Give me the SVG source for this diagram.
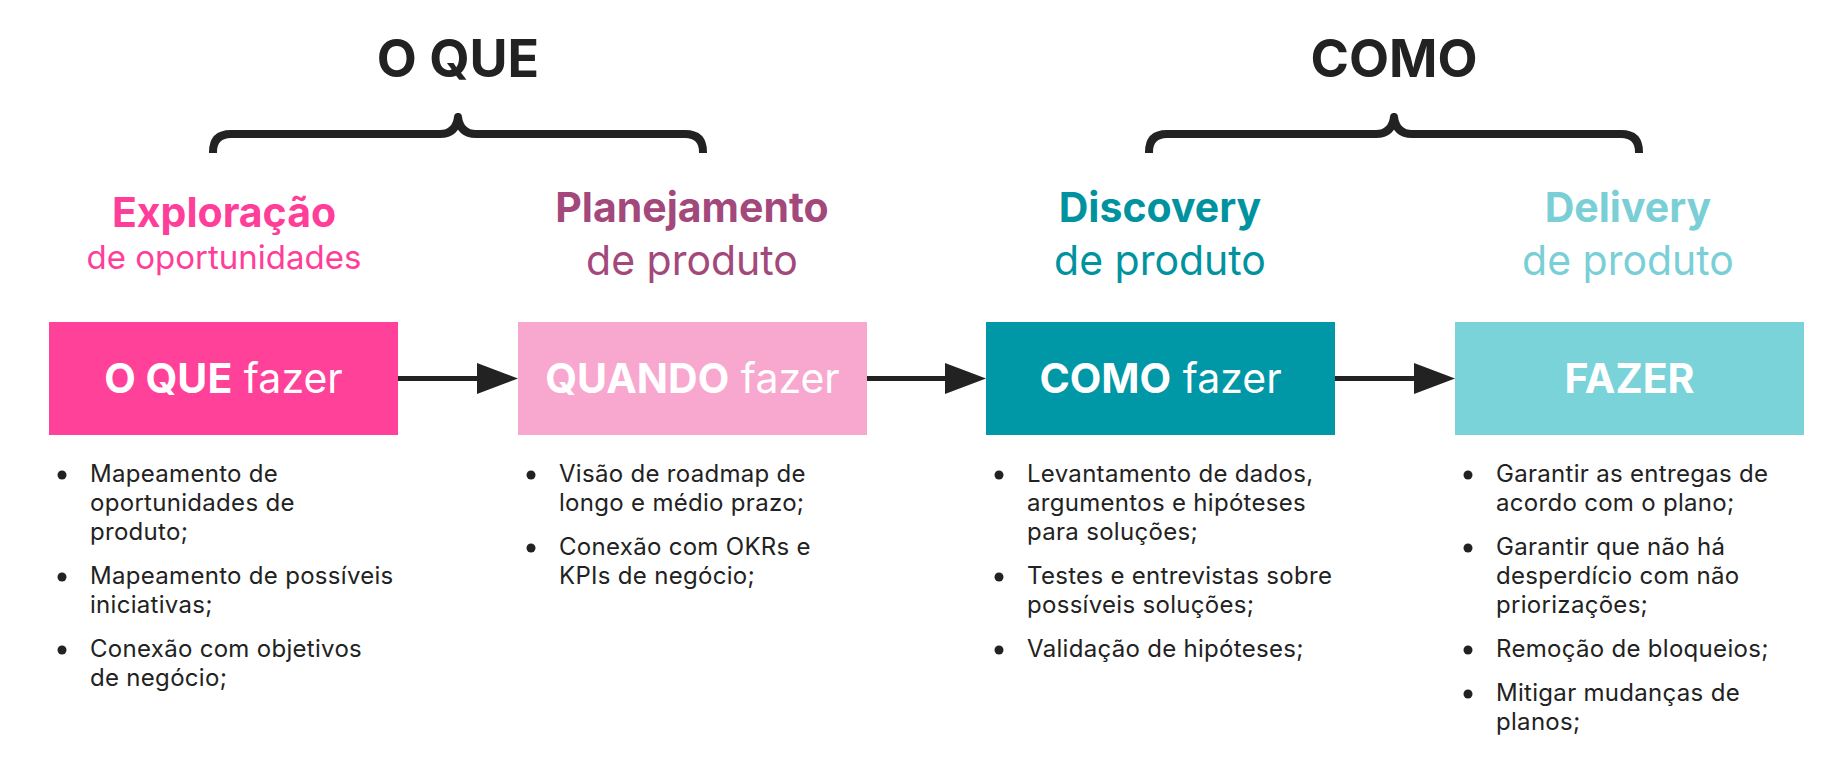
<svg xmlns="http://www.w3.org/2000/svg" width="1848" height="768" viewBox="0 0 1848 768">
<style>
text{font-family:Inter,"Noto Sans","Liberation Sans",sans-serif;}
.title{font-size:52px;font-weight:700;fill:#222222;text-anchor:middle;}
.brace{fill:none;stroke:#222222;stroke-width:8;stroke-linejoin:round;stroke-linecap:butt;}
.h1{font-size:41px;font-weight:700;text-anchor:middle;}
.h2{font-size:41px;font-weight:400;text-anchor:middle;}
.box{stroke:none;}
.bt{font-size:41px;fill:#ffffff;text-anchor:middle;}
.b{font-weight:700;}
.r{font-weight:400;}
.li{font-size:24px;letter-spacing:0.3px;fill:#222222;}
.dot{fill:#222222;}
.conn{stroke:#222222;stroke-width:5;fill:none;}
.head{fill:#222222;}
</style>
<rect width="1848" height="768" fill="#ffffff"/>

<g id="group-oque">
<text class="title" x="458" y="77">O QUE</text>
<path class="brace" d="M213,153 V152 Q213,134 231,134 H440 Q456,134 458,117 Q460,134 476,134 H685 Q703,134 703,152 V153"/>
</g>
<g id="group-como">
<text class="title" x="1394" y="77">COMO</text>
<path class="brace" d="M1149,153 V152 Q1149,134 1167,134 H1376 Q1392,134 1394,117 Q1396,134 1412,134 H1621 Q1639,134 1639,152 V153"/>
</g>

<g id="connectors">
<line class="conn" x1="398" y1="378.5" x2="480" y2="378.5"/>
<polygon class="head" points="477,363 518,378.5 477,394"/>
<line class="conn" x1="867" y1="378.5" x2="948" y2="378.5"/>
<polygon class="head" points="945,363 986,378.5 945,394"/>
<line class="conn" x1="1335" y1="378.5" x2="1417" y2="378.5"/>
<polygon class="head" points="1414,363 1455,378.5 1414,394"/>
</g>

<g id="node-exploracao">
<text class="h1" x="224" y="227" fill="#FF3E9A">Exploração</text>
<text class="h2" x="224" y="269" fill="#FF3E9A" style="font-size:33px">de oportunidades</text>
<rect class="box" x="49" y="322" width="349" height="113" fill="#FF4199"/>
<text class="bt" x="223.5" y="393"><tspan class="b">O QUE</tspan><tspan class="r"> fazer</tspan></text>
<circle class="dot" cx="62" cy="475" r="4.5"/>
<text class="li" x="90" y="482">Mapeamento de</text>
<text class="li" x="90" y="511">oportunidades de</text>
<text class="li" x="90" y="540">produto;</text>
<circle class="dot" cx="62" cy="577" r="4.5"/>
<text class="li" x="90" y="584">Mapeamento de possíveis</text>
<text class="li" x="90" y="613">iniciativas;</text>
<circle class="dot" cx="62" cy="650" r="4.5"/>
<text class="li" x="90" y="657">Conexão com objetivos</text>
<text class="li" x="90" y="686">de negócio;</text>
</g>

<g id="node-planejamento">
<text class="h1" x="692" y="222" fill="#A3487B">Planejamento</text>
<text class="h2" x="692" y="275" fill="#A3487B">de produto</text>
<rect class="box" x="518" y="322" width="349" height="113" fill="#F8A8CF"/>
<text class="bt" x="692.5" y="393"><tspan class="b">QUANDO</tspan><tspan class="r"> fazer</tspan></text>
<circle class="dot" cx="531" cy="475" r="4.5"/>
<text class="li" x="559" y="482">Visão de roadmap de</text>
<text class="li" x="559" y="511">longo e médio prazo;</text>
<circle class="dot" cx="531" cy="548" r="4.5"/>
<text class="li" x="559" y="555">Conexão com OKRs e</text>
<text class="li" x="559" y="584">KPIs de negócio;</text>
</g>

<g id="node-discovery">
<text class="h1" x="1160" y="222" fill="#00939F">Discovery</text>
<text class="h2" x="1160" y="275" fill="#00939F">de produto</text>
<rect class="box" x="986" y="322" width="349" height="113" fill="#0097A6"/>
<text class="bt" x="1160.5" y="393"><tspan class="b">COMO</tspan><tspan class="r"> fazer</tspan></text>
<circle class="dot" cx="999" cy="475" r="4.5"/>
<text class="li" x="1027" y="482">Levantamento de dados,</text>
<text class="li" x="1027" y="511">argumentos e hipóteses</text>
<text class="li" x="1027" y="540">para soluções;</text>
<circle class="dot" cx="999" cy="577" r="4.5"/>
<text class="li" x="1027" y="584">Testes e entrevistas sobre</text>
<text class="li" x="1027" y="613">possíveis soluções;</text>
<circle class="dot" cx="999" cy="650" r="4.5"/>
<text class="li" x="1027" y="657">Validação de hipóteses;</text>
</g>

<g id="node-delivery">
<text class="h1" x="1628" y="222" fill="#7ACFD6">Delivery</text>
<text class="h2" x="1628" y="275" fill="#7ACFD6">de produto</text>
<rect class="box" x="1455" y="322" width="349" height="113" fill="#7AD3D9"/>
<text class="bt" x="1629.5" y="393"><tspan class="b">FAZER</tspan></text>
<circle class="dot" cx="1468" cy="475" r="4.5"/>
<text class="li" x="1496" y="482">Garantir as entregas de</text>
<text class="li" x="1496" y="511">acordo com o plano;</text>
<circle class="dot" cx="1468" cy="548" r="4.5"/>
<text class="li" x="1496" y="555">Garantir que não há</text>
<text class="li" x="1496" y="584">desperdício com não</text>
<text class="li" x="1496" y="613">priorizações;</text>
<circle class="dot" cx="1468" cy="650" r="4.5"/>
<text class="li" x="1496" y="657">Remoção de bloqueios;</text>
<circle class="dot" cx="1468" cy="694" r="4.5"/>
<text class="li" x="1496" y="701">Mitigar mudanças de</text>
<text class="li" x="1496" y="730">planos;</text>
</g>
</svg>
